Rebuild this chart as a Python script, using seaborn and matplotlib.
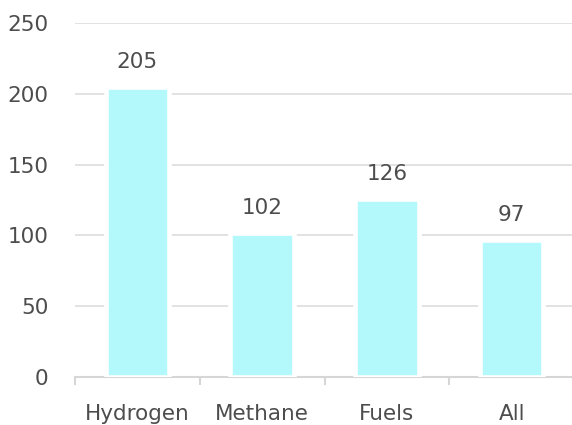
import matplotlib
matplotlib.use("Agg")
import matplotlib.pyplot as plt
import seaborn as sns
import pandas as pd
import numpy as np

categories = ["Hydrogen", "Methane", "Fuels", "All"]
values = [205, 102, 126, 97]
y_ticks = [0, 50, 100, 150, 200, 250]

sns.set_theme(style="white")
plt.rcParams['font.family'] = ['DejaVu Sans']

df = pd.DataFrame({"category": categories, "value": values})

fig = plt.figure(figsize=(5.72, 4.25), dpi=100, facecolor="white")
ax = fig.add_axes([75/572, 48/425, 499/572, 354/425])
ax.set_facecolor("white")

sns.barplot(data=df, x="category", y="value", color="#b3f9fc", saturation=1,
            width=0.51, edgecolor="white", linewidth=3.3, ax=ax, zorder=3)

ax.set_ylim(0, 250)
ax.set_xlim(-0.5, len(categories) - 0.5)
ax.set_yticks(y_ticks)
ax.set_yticklabels([str(t) for t in y_ticks])
ax.yaxis.grid(True, color="#dddddd", linewidth=1.2, zorder=0)
ax.set_axisbelow(True)
ax.set_xlabel("")
ax.set_ylabel("")

for s in ["top", "right", "left"]:
    ax.spines[s].set_visible(False)
ax.spines["bottom"].set_color("#d6d6d6")
ax.spines["bottom"].set_linewidth(1.5)

fs = 15.5
ax.tick_params(axis="y", length=0, pad=19, labelsize=fs, labelcolor="#4d4d4d")
ax.tick_params(axis="x", length=0, pad=19.5, labelsize=fs, labelcolor="#4d4d4d")
ax.set_xticks(np.arange(-0.5, len(categories) - 0.5, 1), minor=True)
ax.tick_params(axis="x", which="minor", length=6, width=1.5, color="#d6d6d6", bottom=True)

for i, v in enumerate(values):
    ax.annotate(str(v), xy=(i, v), xytext=(0, 18), textcoords="offset points",
                ha="center", va="center", fontsize=fs, color="#4d4d4d")

fig.savefig("out.png", dpi=100, facecolor="white")
